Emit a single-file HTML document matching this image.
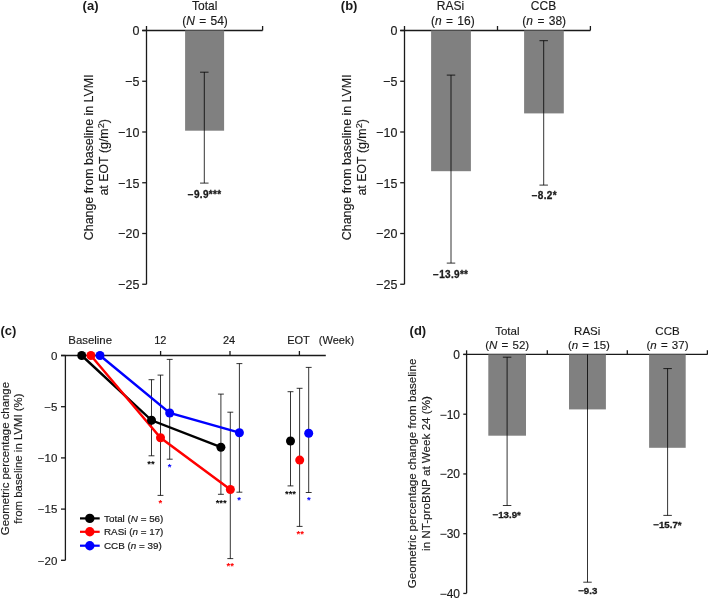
<!DOCTYPE html>
<html><head><meta charset="utf-8"><style>
html,body{margin:0;padding:0;background:#fff;}
svg{display:block;font-family:"Liberation Sans",sans-serif;}
#w{will-change:transform;width:708px;height:598px;}
</style></head><body>
<div id="w"><svg width="708" height="598" viewBox="0 0 708 598">
<rect x="0" y="0" width="708" height="598" fill="#fff"/>
<line x1="146.5" y1="26" x2="146.5" y2="284.2" stroke="#1a1a1a" stroke-width="1.3"/>
<line x1="142.2" y1="30.5" x2="262.6" y2="30.5" stroke="#1a1a1a" stroke-width="1.3"/>
<line x1="262.6" y1="26" x2="262.6" y2="30.5" stroke="#1a1a1a" stroke-width="1.3"/>
<line x1="142.2" y1="30.5" x2="146.5" y2="30.5" stroke="#1a1a1a" stroke-width="1.3"/>
<g transform="translate(139.5,35.4) scale(1.0,1.07)"><text x="0" y="0" font-size="12.5" text-anchor="end" fill="#1a1a1a" stroke="#1a1a1a" stroke-width="0.15">0</text></g>
<line x1="142.2" y1="81.25" x2="146.5" y2="81.25" stroke="#1a1a1a" stroke-width="1.3"/>
<g transform="translate(139.5,86.15) scale(1.0,1.07)"><text x="0" y="0" font-size="12.5" text-anchor="end" fill="#1a1a1a" stroke="#1a1a1a" stroke-width="0.15">−5</text></g>
<line x1="142.2" y1="132.0" x2="146.5" y2="132.0" stroke="#1a1a1a" stroke-width="1.3"/>
<g transform="translate(139.5,136.9) scale(1.0,1.07)"><text x="0" y="0" font-size="12.5" text-anchor="end" fill="#1a1a1a" stroke="#1a1a1a" stroke-width="0.15">−10</text></g>
<line x1="142.2" y1="182.75" x2="146.5" y2="182.75" stroke="#1a1a1a" stroke-width="1.3"/>
<g transform="translate(139.5,187.65) scale(1.0,1.07)"><text x="0" y="0" font-size="12.5" text-anchor="end" fill="#1a1a1a" stroke="#1a1a1a" stroke-width="0.15">−15</text></g>
<line x1="142.2" y1="233.5" x2="146.5" y2="233.5" stroke="#1a1a1a" stroke-width="1.3"/>
<g transform="translate(139.5,238.4) scale(1.0,1.07)"><text x="0" y="0" font-size="12.5" text-anchor="end" fill="#1a1a1a" stroke="#1a1a1a" stroke-width="0.15">−20</text></g>
<line x1="142.2" y1="284.25" x2="146.5" y2="284.25" stroke="#1a1a1a" stroke-width="1.3"/>
<g transform="translate(139.5,289.15) scale(1.0,1.07)"><text x="0" y="0" font-size="12.5" text-anchor="end" fill="#1a1a1a" stroke="#1a1a1a" stroke-width="0.15">−25</text></g>
<text x="82.6" y="9.9" font-size="13" text-anchor="start" font-weight="bold" fill="#1a1a1a">(a)</text>
<line x1="404.5" y1="26" x2="404.5" y2="284.2" stroke="#1a1a1a" stroke-width="1.3"/>
<line x1="400.2" y1="30.5" x2="590.4" y2="30.5" stroke="#1a1a1a" stroke-width="1.3"/>
<line x1="497.5" y1="26" x2="497.5" y2="30.5" stroke="#1a1a1a" stroke-width="1.3"/>
<line x1="590.4" y1="26" x2="590.4" y2="30.5" stroke="#1a1a1a" stroke-width="1.3"/>
<line x1="400.2" y1="30.5" x2="404.5" y2="30.5" stroke="#1a1a1a" stroke-width="1.3"/>
<g transform="translate(397.5,35.4) scale(1.0,1.07)"><text x="0" y="0" font-size="12.5" text-anchor="end" fill="#1a1a1a" stroke="#1a1a1a" stroke-width="0.15">0</text></g>
<line x1="400.2" y1="81.25" x2="404.5" y2="81.25" stroke="#1a1a1a" stroke-width="1.3"/>
<g transform="translate(397.5,86.15) scale(1.0,1.07)"><text x="0" y="0" font-size="12.5" text-anchor="end" fill="#1a1a1a" stroke="#1a1a1a" stroke-width="0.15">−5</text></g>
<line x1="400.2" y1="132.0" x2="404.5" y2="132.0" stroke="#1a1a1a" stroke-width="1.3"/>
<g transform="translate(397.5,136.9) scale(1.0,1.07)"><text x="0" y="0" font-size="12.5" text-anchor="end" fill="#1a1a1a" stroke="#1a1a1a" stroke-width="0.15">−10</text></g>
<line x1="400.2" y1="182.75" x2="404.5" y2="182.75" stroke="#1a1a1a" stroke-width="1.3"/>
<g transform="translate(397.5,187.65) scale(1.0,1.07)"><text x="0" y="0" font-size="12.5" text-anchor="end" fill="#1a1a1a" stroke="#1a1a1a" stroke-width="0.15">−15</text></g>
<line x1="400.2" y1="233.5" x2="404.5" y2="233.5" stroke="#1a1a1a" stroke-width="1.3"/>
<g transform="translate(397.5,238.4) scale(1.0,1.07)"><text x="0" y="0" font-size="12.5" text-anchor="end" fill="#1a1a1a" stroke="#1a1a1a" stroke-width="0.15">−20</text></g>
<line x1="400.2" y1="284.25" x2="404.5" y2="284.25" stroke="#1a1a1a" stroke-width="1.3"/>
<g transform="translate(397.5,289.15) scale(1.0,1.07)"><text x="0" y="0" font-size="12.5" text-anchor="end" fill="#1a1a1a" stroke="#1a1a1a" stroke-width="0.15">−25</text></g>
<text x="340.8" y="9.9" font-size="13" text-anchor="start" font-weight="bold" fill="#1a1a1a">(b)</text>
<rect x="185.1" y="30.5" width="39.0" height="100.19999999999999" fill="#808080"/>
<line x1="204.3" y1="72.2" x2="204.3" y2="183.1" stroke="#000" stroke-width="0.8"/>
<line x1="200.05" y1="72.2" x2="208.55" y2="72.2" stroke="#000" stroke-width="0.8"/>
<line x1="200.05" y1="183.1" x2="208.55" y2="183.1" stroke="#000" stroke-width="0.8"/>
<rect x="431.1" y="30.5" width="39.799999999999955" height="140.7" fill="#808080"/>
<line x1="451.0" y1="75.1" x2="451.0" y2="263.1" stroke="#000" stroke-width="0.8"/>
<line x1="446.75" y1="75.1" x2="455.25" y2="75.1" stroke="#000" stroke-width="0.8"/>
<line x1="446.75" y1="263.1" x2="455.25" y2="263.1" stroke="#000" stroke-width="0.8"/>
<rect x="524.1" y="30.5" width="39.69999999999993" height="82.9" fill="#808080"/>
<line x1="543.7" y1="40.7" x2="543.7" y2="185.1" stroke="#000" stroke-width="0.8"/>
<line x1="539.45" y1="40.7" x2="547.95" y2="40.7" stroke="#000" stroke-width="0.8"/>
<line x1="539.45" y1="185.1" x2="547.95" y2="185.1" stroke="#000" stroke-width="0.8"/>
<g transform="translate(204.7,10.0) scale(1.0,1.05)"><text x="0" y="0" font-size="12.0" text-anchor="middle" fill="#1a1a1a" stroke="#1a1a1a" stroke-width="0.15">Total</text></g>
<g transform="translate(205.0,24.8) scale(1.0,1.05)"><text x="0" y="0" font-size="12.0" text-anchor="middle" fill="#1a1a1a" word-spacing="1" stroke="#1a1a1a" stroke-width="0.15">(<tspan font-style="italic">N</tspan> = 54)</text></g>
<g transform="translate(450.5,10.0) scale(1.0,1.05)"><text x="0" y="0" font-size="12.0" text-anchor="middle" fill="#1a1a1a" stroke="#1a1a1a" stroke-width="0.15">RASi</text></g>
<g transform="translate(452.8,24.8) scale(1.0,1.05)"><text x="0" y="0" font-size="12.0" text-anchor="middle" fill="#1a1a1a" word-spacing="1" stroke="#1a1a1a" stroke-width="0.15">(<tspan font-style="italic">n</tspan> = 16)</text></g>
<g transform="translate(543.5,10.0) scale(1.0,1.05)"><text x="0" y="0" font-size="12.0" text-anchor="middle" fill="#1a1a1a" stroke="#1a1a1a" stroke-width="0.15">CCB</text></g>
<g transform="translate(544.2,24.8) scale(1.0,1.05)"><text x="0" y="0" font-size="12.0" text-anchor="middle" fill="#1a1a1a" word-spacing="1" stroke="#1a1a1a" stroke-width="0.15">(<tspan font-style="italic">n</tspan> = 38)</text></g>
<text x="204.6" y="198.0" font-size="10" text-anchor="middle" font-weight="bold" fill="#1a1a1a" letter-spacing="0.3" stroke="#1a1a1a" stroke-width="0.3">−9.9***</text>
<text x="450.7" y="278.4" font-size="10" text-anchor="middle" font-weight="bold" fill="#1a1a1a" letter-spacing="0.3" stroke="#1a1a1a" stroke-width="0.3">−13.9**</text>
<text x="544.3" y="198.9" font-size="10" text-anchor="middle" font-weight="bold" fill="#1a1a1a" letter-spacing="0.3" stroke="#1a1a1a" stroke-width="0.3">−8.2*</text>
<g transform="translate(100.14999999999999,157.3) rotate(-90)">
<text x="0" y="-7.55" font-size="12.4" text-anchor="middle" fill="#1a1a1a" stroke="#1a1a1a" stroke-width="0.15">Change from baseline in LVMI</text>
<text x="0" y="7.55" font-size="12.4" text-anchor="middle" fill="#1a1a1a" stroke="#1a1a1a" stroke-width="0.15">at EOT (g/m<tspan font-size="9.3" dy="-3.6">2</tspan><tspan dy="3.6">)</tspan></text>
</g>
<g transform="translate(358.15,157.3) rotate(-90)">
<text x="0" y="-7.55" font-size="12.4" text-anchor="middle" fill="#1a1a1a" stroke="#1a1a1a" stroke-width="0.15">Change from baseline in LVMI</text>
<text x="0" y="7.55" font-size="12.4" text-anchor="middle" fill="#1a1a1a" stroke="#1a1a1a" stroke-width="0.15">at EOT (g/m<tspan font-size="9.3" dy="-3.6">2</tspan><tspan dy="3.6">)</tspan></text>
</g>
<line x1="65.4" y1="355.5" x2="65.4" y2="560.3" stroke="#1a1a1a" stroke-width="1.3"/>
<line x1="61" y1="355.5" x2="325.8" y2="355.5" stroke="#1a1a1a" stroke-width="1.3"/>
<line x1="160.6" y1="351" x2="160.6" y2="355.5" stroke="#1a1a1a" stroke-width="1.3"/>
<line x1="230.0" y1="351" x2="230.0" y2="355.5" stroke="#1a1a1a" stroke-width="1.3"/>
<line x1="299.4" y1="351" x2="299.4" y2="355.5" stroke="#1a1a1a" stroke-width="1.3"/>
<line x1="61" y1="355.5" x2="65.4" y2="355.5" stroke="#1a1a1a" stroke-width="1.3"/>
<text x="57.3" y="359.8" font-size="11.5" text-anchor="end" fill="#1a1a1a" stroke="#1a1a1a" stroke-width="0.15">0</text>
<line x1="61" y1="406.7" x2="65.4" y2="406.7" stroke="#1a1a1a" stroke-width="1.3"/>
<text x="57.3" y="411.0" font-size="11.5" text-anchor="end" fill="#1a1a1a" stroke="#1a1a1a" stroke-width="0.15">−5</text>
<line x1="61" y1="457.9" x2="65.4" y2="457.9" stroke="#1a1a1a" stroke-width="1.3"/>
<text x="57.3" y="462.2" font-size="11.5" text-anchor="end" fill="#1a1a1a" stroke="#1a1a1a" stroke-width="0.15">−10</text>
<line x1="61" y1="509.1" x2="65.4" y2="509.1" stroke="#1a1a1a" stroke-width="1.3"/>
<text x="57.3" y="513.4" font-size="11.5" text-anchor="end" fill="#1a1a1a" stroke="#1a1a1a" stroke-width="0.15">−15</text>
<line x1="61" y1="560.3" x2="65.4" y2="560.3" stroke="#1a1a1a" stroke-width="1.3"/>
<text x="57.3" y="564.5999999999999" font-size="11.5" text-anchor="end" fill="#1a1a1a" stroke="#1a1a1a" stroke-width="0.15">−20</text>
<text x="0.4" y="334.6" font-size="13" text-anchor="start" font-weight="bold" fill="#1a1a1a">(c)</text>
<text x="90.2" y="343.7" font-size="11.4" text-anchor="middle" fill="#1a1a1a" stroke="#1a1a1a" stroke-width="0.15">Baseline</text>
<text x="160.3" y="343.7" font-size="11.0" text-anchor="middle" fill="#1a1a1a" stroke="#1a1a1a" stroke-width="0.15">12</text>
<text x="229.0" y="343.7" font-size="11.0" text-anchor="middle" fill="#1a1a1a" stroke="#1a1a1a" stroke-width="0.15">24</text>
<text x="298.5" y="343.7" font-size="11.0" text-anchor="middle" fill="#1a1a1a" stroke="#1a1a1a" stroke-width="0.15">EOT</text>
<text x="318.8" y="343.7" font-size="11.0" text-anchor="start" fill="#1a1a1a" stroke="#1a1a1a" stroke-width="0.15">(Week)</text>
<line x1="151.5" y1="379.7" x2="151.5" y2="455.8" stroke="#000" stroke-width="0.8"/>
<line x1="148.55" y1="379.7" x2="154.45" y2="379.7" stroke="#000" stroke-width="0.8"/>
<line x1="148.55" y1="455.8" x2="154.45" y2="455.8" stroke="#000" stroke-width="0.8"/>
<line x1="220.9" y1="394.1" x2="220.9" y2="494.3" stroke="#000" stroke-width="0.8"/>
<line x1="217.95000000000002" y1="394.1" x2="223.85" y2="394.1" stroke="#000" stroke-width="0.8"/>
<line x1="217.95000000000002" y1="494.3" x2="223.85" y2="494.3" stroke="#000" stroke-width="0.8"/>
<line x1="290.5" y1="391.7" x2="290.5" y2="485.9" stroke="#000" stroke-width="0.8"/>
<line x1="287.55" y1="391.7" x2="293.45" y2="391.7" stroke="#000" stroke-width="0.8"/>
<line x1="287.55" y1="485.9" x2="293.45" y2="485.9" stroke="#000" stroke-width="0.8"/>
<line x1="160.5" y1="375.1" x2="160.5" y2="495.4" stroke="#000" stroke-width="0.8"/>
<line x1="157.55" y1="375.1" x2="163.45" y2="375.1" stroke="#000" stroke-width="0.8"/>
<line x1="157.55" y1="495.4" x2="163.45" y2="495.4" stroke="#000" stroke-width="0.8"/>
<line x1="230.3" y1="412.2" x2="230.3" y2="558.6" stroke="#000" stroke-width="0.8"/>
<line x1="227.35000000000002" y1="412.2" x2="233.25" y2="412.2" stroke="#000" stroke-width="0.8"/>
<line x1="227.35000000000002" y1="558.6" x2="233.25" y2="558.6" stroke="#000" stroke-width="0.8"/>
<line x1="299.6" y1="388.3" x2="299.6" y2="526.4" stroke="#000" stroke-width="0.8"/>
<line x1="296.65000000000003" y1="388.3" x2="302.55" y2="388.3" stroke="#000" stroke-width="0.8"/>
<line x1="296.65000000000003" y1="526.4" x2="302.55" y2="526.4" stroke="#000" stroke-width="0.8"/>
<line x1="169.7" y1="359.4" x2="169.7" y2="459.2" stroke="#000" stroke-width="0.8"/>
<line x1="166.75" y1="359.4" x2="172.64999999999998" y2="359.4" stroke="#000" stroke-width="0.8"/>
<line x1="166.75" y1="459.2" x2="172.64999999999998" y2="459.2" stroke="#000" stroke-width="0.8"/>
<line x1="239.4" y1="363.6" x2="239.4" y2="492.2" stroke="#000" stroke-width="0.8"/>
<line x1="236.45000000000002" y1="363.6" x2="242.35" y2="363.6" stroke="#000" stroke-width="0.8"/>
<line x1="236.45000000000002" y1="492.2" x2="242.35" y2="492.2" stroke="#000" stroke-width="0.8"/>
<line x1="308.7" y1="367.4" x2="308.7" y2="492.5" stroke="#000" stroke-width="0.8"/>
<line x1="305.75" y1="367.4" x2="311.65" y2="367.4" stroke="#000" stroke-width="0.8"/>
<line x1="305.75" y1="492.5" x2="311.65" y2="492.5" stroke="#000" stroke-width="0.8"/>
<polyline points="81.7,355.5 151.5,420.3 220.9,447.2" fill="none" stroke="#000" stroke-width="2.4"/>
<polyline points="90.9,355.5 160.5,437.8 230.35,489.5" fill="none" stroke="#f00" stroke-width="2.4"/>
<polyline points="100.0,355.5 169.7,413.0 239.4,432.7" fill="none" stroke="#00f" stroke-width="2.4"/>
<circle cx="81.7" cy="355.5" r="4.5" fill="#000"/>
<circle cx="151.5" cy="420.3" r="4.5" fill="#000"/>
<circle cx="220.9" cy="447.2" r="4.5" fill="#000"/>
<circle cx="290.5" cy="441.0" r="4.5" fill="#000"/>
<circle cx="90.9" cy="355.5" r="4.5" fill="#f00"/>
<circle cx="160.5" cy="437.8" r="4.5" fill="#f00"/>
<circle cx="230.35" cy="489.5" r="4.5" fill="#f00"/>
<circle cx="299.7" cy="460.1" r="4.5" fill="#f00"/>
<circle cx="100.0" cy="355.5" r="4.5" fill="#00f"/>
<circle cx="169.7" cy="413.0" r="4.5" fill="#00f"/>
<circle cx="239.4" cy="432.7" r="4.5" fill="#00f"/>
<circle cx="308.7" cy="433.2" r="4.5" fill="#00f"/>
<text x="151.0" y="466.8" font-size="9.5" text-anchor="middle" font-weight="bold" fill="#000">**</text>
<text x="221.2" y="505.6" font-size="9.5" text-anchor="middle" font-weight="bold" fill="#000">***</text>
<text x="290.5" y="496.90000000000003" font-size="9.5" text-anchor="middle" font-weight="bold" fill="#000">***</text>
<text x="160.4" y="506.3" font-size="9.5" text-anchor="middle" font-weight="bold" fill="#f00">*</text>
<text x="230.3" y="569.4" font-size="9.5" text-anchor="middle" font-weight="bold" fill="#f00">**</text>
<text x="300.2" y="537.0999999999999" font-size="9.5" text-anchor="middle" font-weight="bold" fill="#f00">**</text>
<text x="169.7" y="469.90000000000003" font-size="9.5" text-anchor="middle" font-weight="bold" fill="#00f">*</text>
<text x="239.2" y="502.8" font-size="9.5" text-anchor="middle" font-weight="bold" fill="#00f">*</text>
<text x="308.8" y="503.1" font-size="9.5" text-anchor="middle" font-weight="bold" fill="#00f">*</text>
<line x1="80" y1="518.4" x2="99.7" y2="518.4" stroke="#000" stroke-width="2.2"/>
<circle cx="89.8" cy="518.4" r="4.7" fill="#000"/>
<text x="104" y="521.8" font-size="9.85" text-anchor="start" fill="#1a1a1a" stroke="#1a1a1a" stroke-width="0.2">Total (<tspan font-style="italic">N</tspan> = 56)</text>
<line x1="80" y1="531.8" x2="99.7" y2="531.8" stroke="#f00" stroke-width="2.2"/>
<circle cx="89.8" cy="531.8" r="4.7" fill="#f00"/>
<text x="104" y="535.1999999999999" font-size="9.85" text-anchor="start" fill="#1a1a1a" stroke="#1a1a1a" stroke-width="0.2">RASi (<tspan font-style="italic">n</tspan> = 17)</text>
<line x1="80" y1="545.7" x2="99.7" y2="545.7" stroke="#00f" stroke-width="2.2"/>
<circle cx="89.8" cy="545.7" r="4.7" fill="#00f"/>
<text x="104" y="549.1" font-size="9.85" text-anchor="start" fill="#1a1a1a" stroke="#1a1a1a" stroke-width="0.2">CCB (<tspan font-style="italic">n</tspan> = 39)</text>
<g transform="translate(15.5,458.6) rotate(-90)">
<text x="0" y="-6.7" font-size="11.4" text-anchor="middle" fill="#1a1a1a" stroke="#1a1a1a" stroke-width="0.15">Geometric percentage change</text>
<text x="0" y="6.7" font-size="11.4" text-anchor="middle" fill="#1a1a1a" stroke="#1a1a1a" stroke-width="0.15">from baseline in LVMI (%)</text>
</g>
<line x1="466.6" y1="350.3" x2="466.6" y2="593.2" stroke="#1a1a1a" stroke-width="1.3"/>
<line x1="463.3" y1="354.45" x2="707.5" y2="354.45" stroke="#1a1a1a" stroke-width="1.3"/>
<line x1="547.3" y1="350.3" x2="547.3" y2="354.45" stroke="#1a1a1a" stroke-width="1.3"/>
<line x1="627.3" y1="350.3" x2="627.3" y2="354.45" stroke="#1a1a1a" stroke-width="1.3"/>
<line x1="707.4" y1="350.3" x2="707.4" y2="354.45" stroke="#1a1a1a" stroke-width="1.3"/>
<line x1="463.3" y1="354.45" x2="466.6" y2="354.45" stroke="#1a1a1a" stroke-width="1.3"/>
<text x="460.0" y="358.84999999999997" font-size="12" text-anchor="end" fill="#1a1a1a" stroke="#1a1a1a" stroke-width="0.15">0</text>
<line x1="463.3" y1="414.2" x2="466.6" y2="414.2" stroke="#1a1a1a" stroke-width="1.3"/>
<text x="460.0" y="418.59999999999997" font-size="12" text-anchor="end" fill="#1a1a1a" stroke="#1a1a1a" stroke-width="0.15">−10</text>
<line x1="463.3" y1="473.95" x2="466.6" y2="473.95" stroke="#1a1a1a" stroke-width="1.3"/>
<text x="460.0" y="478.34999999999997" font-size="12" text-anchor="end" fill="#1a1a1a" stroke="#1a1a1a" stroke-width="0.15">−20</text>
<line x1="463.3" y1="533.7" x2="466.6" y2="533.7" stroke="#1a1a1a" stroke-width="1.3"/>
<text x="460.0" y="538.1" font-size="12" text-anchor="end" fill="#1a1a1a" stroke="#1a1a1a" stroke-width="0.15">−30</text>
<line x1="463.3" y1="593.45" x2="466.6" y2="593.45" stroke="#1a1a1a" stroke-width="1.3"/>
<text x="460.0" y="597.85" font-size="12" text-anchor="end" fill="#1a1a1a" stroke="#1a1a1a" stroke-width="0.15">−40</text>
<text x="409.6" y="334.6" font-size="13" text-anchor="start" font-weight="bold" fill="#1a1a1a">(d)</text>
<rect x="488.3" y="354.45" width="37.69999999999999" height="81.25" fill="#808080"/>
<line x1="507.1" y1="357.2" x2="507.1" y2="505.5" stroke="#000" stroke-width="0.8"/>
<line x1="502.85" y1="357.2" x2="511.35" y2="357.2" stroke="#000" stroke-width="0.8"/>
<line x1="502.85" y1="505.5" x2="511.35" y2="505.5" stroke="#000" stroke-width="0.8"/>
<rect x="569.0" y="354.45" width="36.89999999999998" height="54.94999999999999" fill="#808080"/>
<line x1="587.5" y1="354.45" x2="587.5" y2="582.2" stroke="#000" stroke-width="0.8"/>
<line x1="583.25" y1="582.2" x2="591.75" y2="582.2" stroke="#000" stroke-width="0.8"/>
<rect x="649.1" y="354.45" width="36.60000000000002" height="93.35000000000002" fill="#808080"/>
<line x1="667.6" y1="368.6" x2="667.6" y2="515.4" stroke="#000" stroke-width="0.8"/>
<line x1="663.35" y1="368.6" x2="671.85" y2="368.6" stroke="#000" stroke-width="0.8"/>
<line x1="663.35" y1="515.4" x2="671.85" y2="515.4" stroke="#000" stroke-width="0.8"/>
<text x="507.3" y="335.0" font-size="11.5" text-anchor="middle" fill="#1a1a1a" stroke="#1a1a1a" stroke-width="0.15">Total</text>
<text x="507.2" y="348.8" font-size="11.5" text-anchor="middle" fill="#1a1a1a" word-spacing="1" stroke="#1a1a1a" stroke-width="0.15">(<tspan font-style="italic">N</tspan> = 52)</text>
<text x="587.2" y="335.0" font-size="11.5" text-anchor="middle" fill="#1a1a1a" stroke="#1a1a1a" stroke-width="0.15">RASi</text>
<text x="588.9" y="348.8" font-size="11.5" text-anchor="middle" fill="#1a1a1a" word-spacing="1" stroke="#1a1a1a" stroke-width="0.15">(<tspan font-style="italic">n</tspan> = 15)</text>
<text x="667.5" y="335.0" font-size="11.5" text-anchor="middle" fill="#1a1a1a" stroke="#1a1a1a" stroke-width="0.15">CCB</text>
<text x="667.5" y="348.8" font-size="11.5" text-anchor="middle" fill="#1a1a1a" word-spacing="1" stroke="#1a1a1a" stroke-width="0.15">(<tspan font-style="italic">n</tspan> = 37)</text>
<g transform="translate(506.7,518.0) scale(1.0,0.96)"><text x="0" y="0" font-size="9.7" text-anchor="middle" font-weight="bold" fill="#1a1a1a" letter-spacing="0" stroke="#1a1a1a" stroke-width="0.3">−13.9*</text></g>
<g transform="translate(587.7,594.1) scale(1.0,0.96)"><text x="0" y="0" font-size="9.7" text-anchor="middle" font-weight="bold" fill="#1a1a1a" letter-spacing="0" stroke="#1a1a1a" stroke-width="0.3">−9.3</text></g>
<g transform="translate(667.4,527.9) scale(1.0,0.96)"><text x="0" y="0" font-size="9.7" text-anchor="middle" font-weight="bold" fill="#1a1a1a" letter-spacing="0" stroke="#1a1a1a" stroke-width="0.3">−15.7*</text></g>
<g transform="translate(423.25,473.5) rotate(-90)">
<text x="0" y="-6.85" font-size="11.65" text-anchor="middle" fill="#1a1a1a" stroke="#1a1a1a" stroke-width="0.15">Geometric percentage change from baseline</text>
<text x="0" y="6.85" font-size="11.65" text-anchor="middle" fill="#1a1a1a" stroke="#1a1a1a" stroke-width="0.15">in NT-proBNP at Week 24 (%)</text>
</g>
</svg></div>
</body></html>
